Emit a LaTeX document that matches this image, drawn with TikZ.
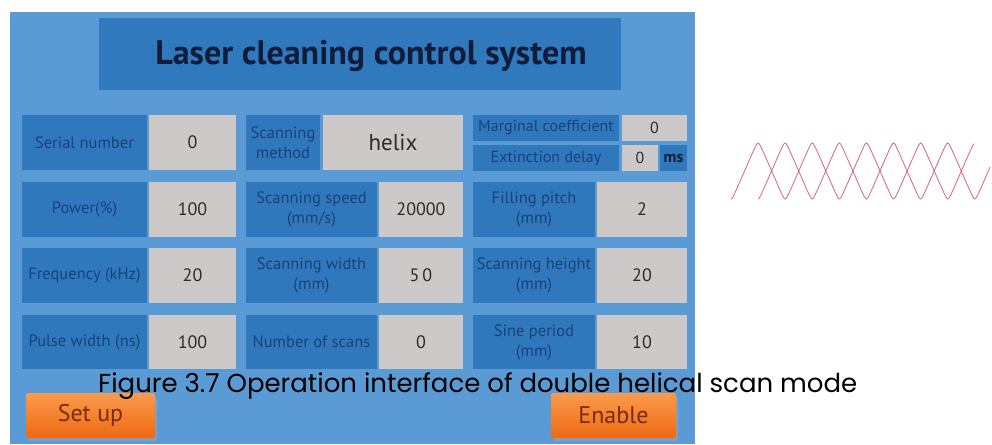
\documentclass[tikz,border=0pt]{standalone}
\usepackage{fontspec}
\setmainfont{PT Sans}
\newfontfamily\capfont{Poppins}
\definecolor{panel}{HTML}{5B9BD5}
\definecolor{darkbox}{HTML}{2F78BC}
\definecolor{titlebox}{HTML}{3079BC}
\definecolor{gval}{HTML}{CDC9C9}
\definecolor{ltext}{HTML}{18427A}
\definecolor{vtext}{HTML}{2B2B2B}
\definecolor{navy}{HTML}{101C3A}
\definecolor{btntop}{HTML}{FA9A4C}
\definecolor{btnbot}{HTML}{EE6A12}
\definecolor{btntext}{HTML}{7A2A0E}
\definecolor{wavecol}{HTML}{D24A63}
\begin{document}
\begin{tikzpicture}[x=1pt,y=-1pt,
  lbl/.style={fill=darkbox, text=ltext, font=\fontsize{16.5}{20}\selectfont, align=center, inner sep=0pt},
  val/.style={fill=gval, text=vtext, font=\fontsize{18}{20}\selectfont, inner sep=0pt},
  btnbox/.style={top color=btntop, bottom color=btnbot, text=btntext, font=\fontsize{24}{26}\selectfont, inner sep=0pt, minimum height=45, rounded corners=2pt},
  wv/.style={draw=wavecol, line width=0.8pt, opacity=0.85}]
\useasboundingbox (0,0) rectangle (992,444);
\fill[white] (0,0) rectangle (992,444);
% panel
\node[fill=panel, minimum width=685, minimum height=432, inner sep=0pt] (panel) at (352.5,228) {};
% title
\node[fill=titlebox, minimum width=522, minimum height=72, inner sep=0pt] (tbox) at (360,54) {};
\node[font=\bfseries\fontsize{34}{36}\selectfont, text=navy, anchor=base] (title) at (371,64) {Laser cleaning control system};
% column 1
\node[lbl, minimum width=125, minimum height=55] (sn) at (84.5,142.5) {Serial number};
\node[val, minimum width=87, minimum height=55] (snv) at (192.5,142.5) {0};
\node[lbl, minimum width=125, minimum height=55] (pw) at (84.5,209.5) {Power(\%)};
\node[val, minimum width=87, minimum height=55] (pwv) at (192.5,209.5) {100};
\node[lbl, minimum width=125, minimum height=55] (fq) at (84.5,275.5) {Frequency (kHz)};
\node[val, minimum width=87, minimum height=55] (fqv) at (192.5,275.5) {20};
\node[lbl, minimum width=125, minimum height=54] (pu) at (84.5,342) {Pulse width (ns)};
\node[val, minimum width=87, minimum height=54] (puv) at (192.5,342) {100};
% column 2
\node[lbl, minimum width=74, minimum height=55] (sm) at (283,142.5) {Scanning\\method};
\node[val, minimum width=140, minimum height=55, font=\fontsize{23}{24}\selectfont] (smv) at (393,142.5) {helix};
\node[lbl, minimum width=131, minimum height=55] (ss) at (311.5,209.5) {Scanning speed\\(mm/s)};
\node[val, minimum width=84, minimum height=55] (ssv) at (421,209.5) {20000};
\node[lbl, minimum width=131, minimum height=55] (sw) at (311.5,275.5) {Scanning width\\(mm)};
\node[val, minimum width=84, minimum height=55] (swv) at (421,275.5) {5\,0};
\node[lbl, minimum width=131, minimum height=54] (ns) at (311.5,342) {Number of scans};
\node[val, minimum width=84, minimum height=54] (nsv) at (421,342) {0};
% column 3
\node[lbl, minimum width=146, minimum height=26, font=\fontsize{16}{16}\selectfont] (mc) at (546,128) {Marginal coefficient};
\node[val, minimum width=65, minimum height=26, font=\fontsize{16}{16}\selectfont] (mcv) at (654.5,128) {0};
\node[lbl, minimum width=146, minimum height=26, font=\fontsize{16}{16}\selectfont] (ed) at (546,158) {Extinction delay};
\node[val, minimum width=36, minimum height=26, font=\fontsize{16}{16}\selectfont] (edv) at (640,158) {0};
\node[lbl, minimum width=27, minimum height=26, font=\bfseries\fontsize{16}{16}\selectfont, text=navy] (ms) at (673.5,158) {ms};
\node[lbl, minimum width=122, minimum height=55] (fp) at (534,209.5) {Filling pitch\\(mm)};
\node[val, minimum width=90, minimum height=55] (fpv) at (642,209.5) {2};
\node[lbl, minimum width=122, minimum height=55] (sh) at (534,275.5) {Scanning height\\(mm)};
\node[val, minimum width=90, minimum height=55] (shv) at (642,275.5) {20};
\node[lbl, minimum width=122, minimum height=54] (sp) at (534,342) {Sine period\\(mm)};
\node[val, minimum width=90, minimum height=54] (spv) at (642,342) {10};
% buttons
\fill[black!35, opacity=0.5, rounded corners=2pt] (28,397) rectangle (157,441);
\fill[black!35, opacity=0.5, rounded corners=2pt] (553,397) rectangle (678,441);
\node[btnbox, minimum width=129] (setup) at (90.5,415.5) {Set up};
\node[btnbox, minimum width=125] (enable) at (613.5,415.5) {Enable};
% caption
\node[font=\capfont\fontsize{26}{30}\selectfont, text=black, anchor=base west, inner sep=0pt] (cap) at (98,392) {Figure 3.7 Operation interface of double helical scan mode};
% helix waves
\draw[wv] plot[domain=0:243, samples=300, smooth] ({731+\x}, {171+28*asin(0.985*cos(\x/27.1*180))/80.06});
\draw[wv] plot[domain=0:232, samples=300, smooth] ({758+\x}, {171+28*asin(0.985*cos(\x/27.1*180))/80.06});
\end{tikzpicture}
\end{document}
